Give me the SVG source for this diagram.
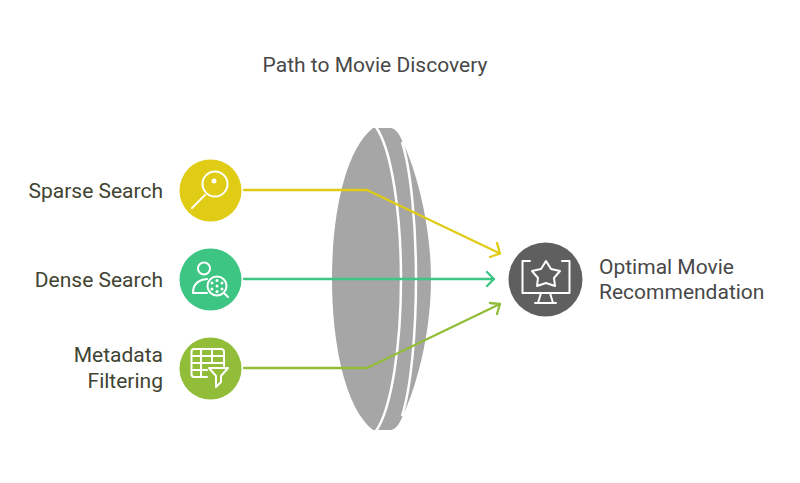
<svg xmlns="http://www.w3.org/2000/svg" width="800" height="483" viewBox="0 0 800 483">
<style>
text{font-family:Roboto,"Liberation Sans",sans-serif;font-size:21px}
.t{fill:#484848}.l{fill:#3f4432}
.i{fill:none;stroke:#fff;stroke-width:2;stroke-linecap:round;stroke-linejoin:round}
.c{fill:none;stroke-width:2.300;stroke-linecap:round;stroke-linejoin:round}
.w{fill:none;stroke:#fff;stroke-width:2.500}
</style>
<rect width="800" height="483" fill="#fff"/>
<text class="t" x="375" y="71.500" text-anchor="middle">Path to Movie Discovery</text>
<g id="lens">
<path fill="#a6a6a6" d="M373,128 H390 C396,128 400,135 403,143 C414,165 431,220 431,279 C431,338 414,393 403,415 C400,423 396,430 390,430 H373 C345,408 332,343 332,279 C332,215 345,150 373,128Z"/>
<path class="w" d="M376,127 C392,150 401,215 401,279 C401,343 392,408 376,431"/>
<path class="w" d="M402,142 C411,170 416,225 416,279 C416,333 411,388 402,416"/>
</g>
<g id="connectors">
<path class="c" stroke="#e0cb15" d="M244,190 H367 L500,253.500 M497,243 L500,253.500 L490,257"/>
<path class="c" stroke="#3cc583" d="M244,279 H494 M487,272 L494,279 L487,286"/>
<path class="c" stroke="#92bd39" d="M244,368 H367 L500,304 M490,303 L500,304 L497,314"/>
</g>
<g id="sparse-search">
<circle cx="210.500" cy="190.500" r="31" fill="#e0cb15"/>
<circle class="i" cx="215" cy="184" r="12.500"/>
<circle cx="214" cy="181" r="2.500" fill="#fff"/>
<path class="i" d="M205,195 L192,208"/>
<text class="l" x="163" y="198" text-anchor="end">Sparse Search</text>
</g>
<g id="dense-search">
<circle cx="210.500" cy="279.500" r="31" fill="#3cc583"/>
<circle class="i" cx="204" cy="268.500" r="6"/>
<path class="i" d="M207,293 H193 C193,285 197,280 207,279"/>
<circle class="i" cx="217" cy="286" r="9.500"/>
<path class="i" d="M224,293 L228,297"/>
<g fill="#fff"><circle cx="217" cy="280.500" r="1.500"/><circle cx="212" cy="283" r="1.500"/><circle cx="222" cy="283" r="1.500"/><circle cx="217" cy="286" r="1.500"/><circle cx="212" cy="289" r="1.500"/><circle cx="222" cy="289" r="1.500"/><circle cx="217" cy="291.500" r="1.500"/></g>
<text class="l" x="163" y="287" text-anchor="end">Dense Search</text>
</g>
<g id="metadata-filtering">
<circle cx="210.500" cy="368.500" r="31" fill="#92bd39"/>
<path class="i" d="M207,377 H194 C192,377 191.500,376 191.500,374 V352 C191.500,350 192,349 194,349 H221 C223,349 224,350 224,352 V366 M191.500,356 H224 M191.500,363 H224 M191.500,370 H207 M201,349 V377 M212,349 V363"/>
<path class="i" d="M209,368 H228 L221,376 V382 L216,387 V376Z"/>
<text class="l" x="163" y="362" text-anchor="end">Metadata</text>
<text class="l" x="163" y="388" text-anchor="end">Filtering</text>
</g>
<g id="optimal-movie-recommendation">
<circle cx="545.500" cy="279.500" r="37" fill="#5f5f5f"/>
<path class="i" d="M530,261 H522.500 V293 H569.500 V261 H562"/>
<path class="i" d="M546,261 L551,269 L560,271 L554,278 L555,286 L546,283 L537,286 L538,278 L532,271 L541,269Z"/>
<path class="i" d="M541,293 L538,303 H553 L550,293 M535,303 H556"/>
<text class="t" x="599" y="274">Optimal Movie</text>
<text class="t" x="599" y="299">Recommendation</text>
</g>
</svg>
